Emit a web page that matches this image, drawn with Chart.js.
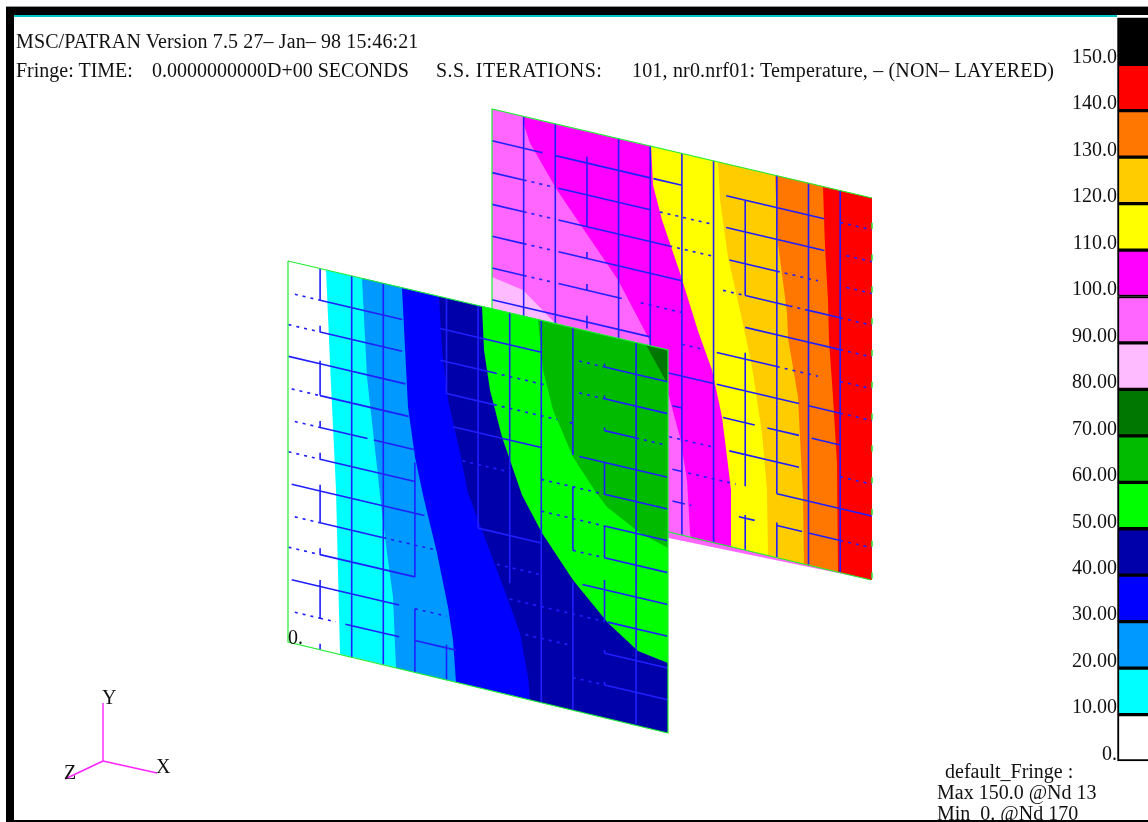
<!DOCTYPE html>
<html>
<head>
<meta charset="utf-8">
<title>MSC/PATRAN fringe</title>
<script src="https://cdn.jsdelivr.net/npm/chart.js@4/dist/chart.umd.min.js"></script>
<style>
    html, body { margin: 0; padding: 0; background: #fff; }
    #wrap { position: relative; width: 1148px; height: 822px; overflow: hidden; }
    canvas { position: absolute; left: 0; top: 0; }
    .txt { position: absolute; font: 20px "Liberation Serif", serif; color: #111; white-space: pre; line-height: 20px; }
    .bar { position: absolute; background: #000; }
</style>
</head>
<body>
<div id="wrap">
    <canvas id="fringeChart" width="1148" height="822"></canvas>
    <div class="txt" style="left:16px;top:31px;letter-spacing:0.12px">MSC/PATRAN Version 7.5 27– Jan– 98 15:46:21</div>
    <div class="txt" style="left:16px;top:60px">Fringe: TIME:</div>
    <div class="txt" style="left:152px;top:60px">0.0000000000D+00 SECONDS</div>
    <div class="txt" style="left:436px;top:60px;letter-spacing:0.5px">S.S. ITERATIONS:</div>
    <div class="txt" style="left:632px;top:60px;letter-spacing:0.18px">101, nr0.nrf01: Temperature, – (NON– LAYERED)</div>
    <div class="txt" style="left:288px;top:627px">0.</div>
    <div class="txt" style="left:102px;top:687px">Y</div>
    <div class="txt" style="left:156px;top:756px">X</div>
    <div class="txt" style="left:64px;top:762px">Z</div>
    <div class="txt" style="left:945px;top:761px">default_Fringe :</div>
    <div class="txt" style="left:937px;top:782px">Max 150.0 @Nd 13</div>
    <div class="txt" style="left:937px;top:803px">Min  0. @Nd 170</div>
    <div class="bar" style="left:6px;top:6px;width:1142px;height:1px;background:#999"></div>
    <div class="bar" style="left:6px;top:7px;width:1142px;height:8px"></div>
    <div class="bar" style="left:14px;top:15px;width:1103px;height:2px;background:#00c4c4"></div>
    <div class="bar" style="left:6px;top:7px;width:8px;height:815px"></div>
    <div class="bar" style="left:6px;top:820px;width:1142px;height:2px"></div>
</div>
<script>
// Colour levels of the fringe bar, bottom to top
const fringeLevels = [0, 10, 20, 30, 40, 50, 60, 70, 80, 90, 100, 110, 120, 130, 140, 150];
const fringeLabels = ['0.', '10.00', '20.00', '30.00', '40.00', '50.00', '60.00', '70.00', '80.00', '90.00',
    '100.0', '110.0', '120.0', '130.0', '140.0', '150.0'];
const fringeColors = ['#ffffff', '#00ffff', '#0099ff', '#0000ff', '#0000aa', '#00ff00', '#00bb00', '#007700',
    '#ffbbff', '#ff66ff', '#ff00ff', '#ffff00', '#ffcc00', '#ff7700', '#ff0000', '#000000'];

// Front plate (lower temperatures): outline and the contour curves, top edge to far edge
const frontOutline = [[288, 261], [668, 350], [668, 733], [288, 642], [288, 261]];
const frontIso10 = [[326, 270], [331, 385], [336, 490], [340, 654]];
const frontIso20 = [[362, 278], [367, 377], [377, 467], [380, 495], [387, 553], [393, 597], [396, 668]];
const frontIso30 = [[402, 288], [408, 407], [415, 457], [423, 495], [437, 553], [448, 607], [453, 640], [456, 682]];
const frontIso40 = [[439, 297], [442, 350], [448, 400], [460, 453], [468, 493], [483, 533], [507, 597], [520, 633], [528, 677], [530, 700]];
const frontIso50 = [[482, 306], [484, 350], [490, 390], [502, 437], [522, 495], [542, 533], [573, 580], [608, 623], [638, 651], [668, 663]];
const frontIso60 = [[538, 320], [543, 370], [553, 410], [573, 457], [597, 494], [607, 507], [640, 533], [668, 548]];
const frontIso70 = [[646, 345], [667, 383], [668, 383]];

// Back plate (higher temperatures)
const backOutline = [[872, 198], [492, 109], [492, 490], [871, 580]];
const backRightEdge = [[872, 198], [872, 580]];
const backIso90 = [[492, 109], [492, 277], [523, 290], [555, 323], [580, 400], [620, 528]];
const backIso100 = [[523, 117], [524, 125], [530, 143], [557, 190], [618, 280], [648, 337], [668, 393], [680, 437], [687, 480], [690, 533], [691, 538]];
const backIso110 = [[651, 146], [653, 185], [662, 220], [680, 273], [698, 331], [712, 370], [722, 417], [727, 457], [731, 490], [731, 547]];
const backIso120 = [[718, 162], [720, 200], [728, 257], [737, 297], [746, 338], [752, 367], [762, 433], [767, 490], [768, 556]];
const backIso130 = [[775, 175], [778, 243], [787, 313], [788, 338], [798, 397], [803, 497], [804, 564]];
const backIso140 = [[823, 187], [825, 247], [828, 300], [829, 340], [833, 397], [837, 463], [838, 572]];

// Mesh lines that are visible: [from, to] along the line, third item 1 = dotted
const frontRows = [
    [[0.2, 1, 1], [1, 3.6], [4.8, 8], [9.2, 10, 1], [10, 12]],
    [[0, 1, 1], [1, 3.6], [4.8, 6.5], [6.5, 8.2, 1], [9.2, 10, 1], [10, 12]],
    [[0, 1], [1, 3.7], [5, 6.5], [6.5, 8.5, 1], [8.9, 9, 1], [10, 11], [11, 12, 1]],
    [[0.1, 1, 1], [1, 3.8], [5.2, 8], [9.2, 12]],
    [[0.2, 1, 1], [1, 2.5], [2.7, 4], [5.5, 7, 1], [8, 10, 1], [10, 12]],
    [[0, 1, 1], [1, 4], [8, 10, 1], [10, 12]],
    [[0.1, 1], [1, 4.3], [6, 8], [9, 10, 1], [10, 12]],
    [[0.2, 1, 1], [1, 3], [3, 4.6, 1], [6.6, 8, 1], [9.3, 12]],
    [[0, 1, 1], [1, 4], [7, 10, 1], [10.1, 12]],
    [[0.1, 1], [1, 3.5], [4, 5, 1], [7.5, 9, 1], [10, 12]],
    [[0.2, 1, 1], [1, 1.5, 1], [1.8, 3.5], [4, 5.3], [9, 10, 1], [10, 12]]
];
const frontCols = [
    [[0, 1], [1.8, 2], [2.9, 4], [4.8, 5], [5.8, 6], [6.8, 8], [8.8, 9], [9.8, 11], [11.8, 12]],
    [[0, 12]],
    [[0, 12]],
    [[5.4, 9], [10, 12]],
    [[0, 3], [10.9, 12]],
    [[0, 7]],
    [[0, 8.5]],
    [[0, 12]],
    [[0, 4], [5, 7], [8, 12]],
    [[0.9, 1], [1.9, 2], [2.9, 3], [4, 5], [6, 7], [7.7, 9], [9.9, 10], [10.9, 11]],
    [[0, 12]]
];
const backRows = [
    [[0, 1.5], [1.5, 1.7, 1], [2, 5], [5.1, 6], [7.4, 10.5], [11, 12, 1]],
    [[0, 1], [1, 2, 1], [2.1, 5], [5.3, 7, 1], [7.4, 10.5], [11.2, 12, 1]],
    [[0, 1], [1, 2, 1], [2.1, 5.6], [5.6, 7, 1], [7.5, 9], [9, 10.3, 1], [11.2, 12, 1]],
    [[0, 1], [1, 2, 1], [2.1, 6], [7.3, 8, 1], [8, 9.4], [9.4, 10, 1], [10, 11], [11, 12, 1]],
    [[0, 1], [1, 2, 1], [2.1, 4.1], [4.7, 6, 1], [8, 9.4], [9.4, 11], [11, 12, 1]],
    [[0, 5], [6, 6.7, 1], [7.1, 9], [9, 10.3, 1], [11, 12, 1]],
    [[5, 7], [7.1, 9.7], [10, 11], [11, 12, 1]],
    [[5.7, 6], [7.3, 8.3], [8.7, 9.7], [10.1, 11]],
    [[5.6, 7, 1], [7.5, 9.7], [11, 12, 1]],
    [[5.7, 6], [6.2, 7.7, 1], [9, 12]],
    [[5.7, 6], [6, 6.3, 1], [7.8, 8.3], [9, 9.8], [10, 11], [11, 12, 1]]
];
const backCols = [
    [[0, 6.5]],
    [[0, 6.5]],
    [[0.8, 3], [3.8, 4], [4.8, 5], [5.8, 6.2]],
    [[0, 6.5]],
    [[0, 6.5]],
    [[0, 12]],
    [[0, 12]],
    [[1, 4], [5.8, 10], [10.9, 12]],
    [[0, 10], [10.9, 12]],
    [[0, 12]],
    [[0, 12]]
];

// Little X Y Z triad
const triadY = [[103, 761], [103, 703]];
const triadX = [[103, 761], [157, 773]];
const triadZ = [[103, 761], [65, 779]];

// Grid of each plate in the picture
const frontGrid = { x0: 288.5, dx: 31.6, y0: 261, dy: 31.8, shear: 7.42, right: 668, topY: 350, bottomY: 733 };
const backGrid = { x0: 492, dx: 31.65, y0: 109, dy: 31.8, shear: 7.42, right: 872, topY: 198, bottomY: 580 };

function toPoints(list) {
    return list.map(function(p) { return { x: p[0], y: p[1] }; });
}

// Curve closed along the right side of its plate, painted over the lower colours
function region(curve, grid) {
    const pts = curve.slice();
    const last = curve[curve.length - 1];
    if (last[0] < grid.right) pts.push([grid.right, grid.bottomY]);
    pts.push([grid.right, grid.topY]);
    return pts;
}

function regionSet(polygon, color) {
    return {
        type: 'line', data: toPoints(polygon), polyFill: color,
        borderWidth: 0, borderColor: 'transparent', pointRadius: 0, xAxisID: 'x', yAxisID: 'y'
    };
}

// Mesh of one plate, one dataset for the solid parts and one for the dotted parts
function meshSets(grid, rows, cols) {
    const solid = [];
    const dotted = [];
    function at(c, k) {
        return { x: grid.x0 + c * grid.dx, y: grid.y0 + k * grid.dy + c * grid.shear };
    }
    function add(a, b, isDotted) {
        const target = isDotted ? dotted : solid;
        target.push(a, b, { x: a.x, y: null });
    }
    rows.forEach(function(spans, i) {
        spans.forEach(function(s) { add(at(s[0], i + 1), at(s[1], i + 1), s[2]); });
    });
    cols.forEach(function(spans, i) {
        spans.forEach(function(s) { add(at(i + 1, s[0]), at(i + 1, s[1]), false); });
    });
    return [
        lineSet(solid, '#1f1fff', 1.6),
        Object.assign(lineSet(dotted, '#1f1fff', 1.6), { borderDash: [3, 5] })
    ];
}

function lineSet(points, color, width) {
    return {
        type: 'line', data: points, borderColor: color, borderWidth: width, pointRadius: 0,
        spanGaps: false, fill: false, tension: 0, xAxisID: 'x', yAxisID: 'y'
    };
}

const datasets = [];
// back plate
datasets.push(regionSet(backOutline, fringeColors[8]));
datasets.push(regionSet(backIso90.concat([[872, 580], [872, 198]]), fringeColors[9]));
[backIso100, backIso110, backIso120, backIso130, backIso140].forEach(function(curve, i) {
    datasets.push(regionSet(region(curve, backGrid), fringeColors[10 + i]));
});
meshSets(backGrid, backRows, backCols).forEach(function(s) { datasets.push(s); });
datasets.push(lineSet(toPoints(backOutline), '#22ee33', 1.2));
datasets.push(Object.assign(lineSet(toPoints(backRightEdge), '#22ee33', 1.5), { borderDash: [6, 25.8], borderDashOffset: 7 }));
// front plate
datasets.push(regionSet(frontOutline, fringeColors[0]));
[frontIso10, frontIso20, frontIso30, frontIso40, frontIso50, frontIso60, frontIso70].forEach(function(curve, i) {
    datasets.push(regionSet(region(curve, frontGrid), fringeColors[1 + i]));
});
meshSets(frontGrid, frontRows, frontCols).forEach(function(s) { datasets.push(s); });
datasets.push(lineSet(toPoints(frontOutline), '#22ee33', 1.2));
// triad
[triadY, triadX, triadZ].forEach(function(t) { datasets.push(lineSet(toPoints(t), '#ff22ff', 1.4)); });
// fringe bar
datasets.push({
    type: 'bar',
    data: fringeLevels.map(function(v) { return { x: 1134, y: [v, v + 10] }; }),
    backgroundColor: fringeColors,
    borderColor: '#000',
    borderWidth: 2,
    borderSkipped: false,
    barThickness: 33,
    xAxisID: 'x',
    yAxisID: 'fringe'
});
// first dataset listed is painted first
datasets.forEach(function(d, i) { d.order = datasets.length - i; });

// Fills a dataset's own points as a closed polygon
const polygonFill = {
    id: 'polygonFill',
    beforeDatasetDraw: function(chart, args) {
        const color = chart.data.datasets[args.index].polyFill;
        if (!color) return;
        const ctx = chart.ctx;
        ctx.save();
        ctx.beginPath();
        args.meta.data.forEach(function(pt, i) {
            if (i === 0) ctx.moveTo(pt.x, pt.y); else ctx.lineTo(pt.x, pt.y);
        });
        ctx.closePath();
        ctx.fillStyle = color;
        ctx.fill();
        ctx.restore();
    }
};

new Chart(document.getElementById('fringeChart').getContext('2d'), {
    type: 'line',
    data: { datasets: datasets },
    plugins: [polygonFill],
    options: {
        responsive: false,
        animation: false,
        events: [],
        layout: { padding: 0 },
        plugins: { legend: { display: false }, tooltip: { enabled: false }, title: { display: false } },
        scales: {
            x: { type: 'linear', min: 0, max: 1148, offset: false, display: false, grid: { offset: false } },
            y: { type: 'linear', min: 0, max: 822, reverse: true, display: false },
            fringe: {
                type: 'linear',
                min: -13.13,
                max: 163.83,
                position: { x: 1117 },
                grid: { display: false },
                border: { display: false },
                afterBuildTicks: function(axis) {
                    axis.ticks = fringeLevels.map(function(v) { return { value: v }; });
                },
                // the labels sit inside the full-size plot, no room needed for them
                afterFit: function(axis) {
                    axis.paddingTop = 0;
                    axis.paddingBottom = 0;
                },
                ticks: {
                    autoSkip: false,
                    mirror: true,
                    padding: 0,
                    labelOffset: -6.5,
                    color: '#111',
                    font: { family: '"Liberation Serif", serif', size: 20 },
                    callback: function(value) { return fringeLabels[fringeLevels.indexOf(value)]; }
                }
            }
        }
    }
});
</script>
</body>
</html>
